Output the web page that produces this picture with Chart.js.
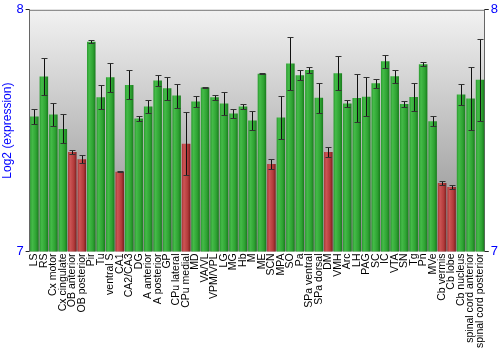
<!DOCTYPE html>
<html>
<head>
<meta charset="utf-8">
<script src="https://cdn.jsdelivr.net/npm/chart.js@4"></script>
<style>
html, body { margin: 0; padding: 0; background: #fff; }
#wrap { width: 500px; height: 350px; }
</style>
</head>
<body>
<div id="wrap"><canvas id="myChart"></canvas></div>
<script>
var regions = ["LS", "RS", "Cx motor", "Cx cingulate", "OB anterior", "OB posterior", "Pir", "Tu",
    "ventral S", "CA1", "CA2/CA3", "DG", "A anterior", "A posterior", "GP", "CPu lateral", "CPu medial",
    "MD", "VA/VL", "VPM/VPL", "LG", "MG", "Hb", "M", "ME", "SCN", "MPA", "SO", "Pa", "SPa ventral",
    "SPa dorsal", "DM", "VMH", "Arc", "LH", "PAG", "SC", "IC", "VTA", "SN", "Tg", "Pn", "MVe",
    "Cb vermis", "Cb lobe", "Cb nucleus", "spinal cord anterior", "spinal cord posterior"];

var expression = [7.558, 7.724, 7.567, 7.507, 7.412, 7.382, 7.868, 7.638,
    7.721, 7.330, 7.689, 7.550, 7.600, 7.707, 7.675, 7.645, 7.446,
    7.621, 7.678, 7.638, 7.612, 7.571, 7.600, 7.542, 7.735, 7.362, 7.554, 7.778, 7.729, 7.751,
    7.636, 7.412, 7.737, 7.612, 7.635, 7.640, 7.696, 7.787, 7.725, 7.610, 7.639, 7.775, 7.539,
    7.283, 7.267, 7.649, 7.633, 7.711];

var errors = [0.030, 0.075, 0.046, 0.060, 0.008, 0.016, 0.006, 0.050,
    0.060, 0.002, 0.060, 0.010, 0.026, 0.023, 0.048, 0.050, 0.130,
    0.022, 0.003, 0.010, 0.048, 0.019, 0.010, 0.040, 0.002, 0.022, 0.088, 0.108, 0.020, 0.013,
    0.062, 0.022, 0.070, 0.015, 0.098, 0.080, 0.019, 0.026, 0.026, 0.013, 0.059, 0.007, 0.021,
    0.008, 0.010, 0.042, 0.130, 0.170];

// low-expression regions are drawn red
var lowRegions = ["OB anterior", "OB posterior", "CA1", "CPu medial", "SCN", "DM", "Cb vermis", "Cb lobe"];

var yTicks = [7, 8];

function barFill(ctx) {
    var chart = ctx.chart;
    var red = lowRegions.indexOf(regions[ctx.dataIndex]) >= 0;
    var xs = chart.scales.x;
    if (!xs || !chart.chartArea) return red ? "#b83a3a" : "#2f9e34";
    var cx = xs.getPixelForValue(ctx.dataIndex);
    var half = (xs.width / regions.length) * 0.9 / 2;
    var g = chart.ctx.createLinearGradient(cx - half, 0, cx + half, 0);
    if (red) {
        g.addColorStop(0, "#a83434");
        g.addColorStop(0.25, "#cc5555");
        g.addColorStop(0.7, "#b23a3a");
        g.addColorStop(1, "#7a1e1e");
    } else {
        g.addColorStop(0, "#2a9a2f");
        g.addColorStop(0.25, "#44bb48");
        g.addColorStop(0.7, "#2ea232");
        g.addColorStop(1, "#187a1c");
    }
    return g;
}

var bgPlugin = {
    id: 'bgGradient',
    beforeDraw: function (chart) {
        var a = chart.chartArea, c = chart.ctx;
        var g = c.createLinearGradient(0, a.top, 0, a.bottom);
        g.addColorStop(0, "#f2f2f2");
        g.addColorStop(1, "#8a8a8a");
        c.save();
        c.fillStyle = g;
        c.fillRect(a.left, a.top, a.right - a.left, a.bottom - a.top);
        c.strokeStyle = "#777";
        c.lineWidth = 1;
        c.beginPath();
        c.moveTo(a.left, a.top + 0.5);
        c.lineTo(a.right, a.top + 0.5);
        c.stroke();
        c.restore();
    }
};

var errorBars = {
    id: 'errorBars',
    afterDatasetsDraw: function (chart) {
        var meta = chart.getDatasetMeta(0);
        var y = chart.scales.y;
        var c = chart.ctx;
        c.save();
        meta.data.forEach(function (bar, i) {
            var x = Math.round(bar.x) + 0.5;
            var hi = Math.round(y.getPixelForValue(expression[i] + errors[i])) + 0.5;
            var lo = Math.round(y.getPixelForValue(expression[i] - errors[i])) + 0.5;
            c.strokeStyle = "#111";
            c.lineWidth = 1;
            c.beginPath();
            c.moveTo(x, hi);
            c.lineTo(x, lo);
            c.stroke();
            c.strokeStyle = "#333";
            c.beginPath();
            c.moveTo(x - 3, hi);
            c.lineTo(x + 3, hi);
            c.moveTo(x - 3, lo);
            c.lineTo(x + 3, lo);
            c.stroke();
        });
        c.restore();
    }
};

var ctx = document.getElementById("myChart").getContext('2d');
var myChart = new Chart(ctx, {
    type: 'bar',
    data: {
        labels: regions,
        datasets: [{
            label: "Log2 (expression)",
            data: expression,
            backgroundColor: barFill,
            borderWidth: 0,
            barPercentage: 0.9,
            categoryPercentage: 1.0
        }]
    },
    options: {
        responsive: true,
        maintainAspectRatio: false,
        animation: false,
        layout: { padding: { top: 4, right: 0, left: 0, bottom: 0 } },
        plugins: {
            legend: { display: false },
            tooltip: { enabled: false }
        },
        scales: {
            x: {
                grid: { display: false, drawTicks: false },
                border: { display: false },
                ticks: {
                    autoSkip: false,
                    maxRotation: 90,
                    minRotation: 90,
                    padding: 2,
                    color: "#000",
                    font: { family: "Liberation Sans, Arial", size: 10.5 }
                }
            },
            y: {
                min: 7,
                max: 8,
                afterBuildTicks: function (axis) {
                    axis.ticks = yTicks.map(function (v) { return { value: v }; });
                },
                grid: { drawOnChartArea: false, tickLength: 4, color: "#222" },
                border: { display: true, color: "#666" },
                title: {
                    display: true,
                    text: "Log2 (expression)",
                    color: "#0000ff",
                    padding: 0,
                    font: { family: "Liberation Sans, Arial", size: 12 }
                },
                ticks: {
                    color: "#0000ff",
                    padding: 2,
                    font: { family: "Liberation Sans, Arial", size: 13 }
                }
            },
            y2: {
                position: 'right',
                min: 7,
                max: 8,
                afterBuildTicks: function (axis) {
                    axis.ticks = yTicks.map(function (v) { return { value: v }; });
                },
                grid: { drawOnChartArea: false, tickLength: 4, color: "#222" },
                border: { display: true, color: "#666" },
                ticks: {
                    color: "#0000ff",
                    padding: 2,
                    font: { family: "Liberation Sans, Arial", size: 13 }
                }
            }
        }
    },
    plugins: [bgPlugin, errorBars]
});
</script>
</body>
</html>
